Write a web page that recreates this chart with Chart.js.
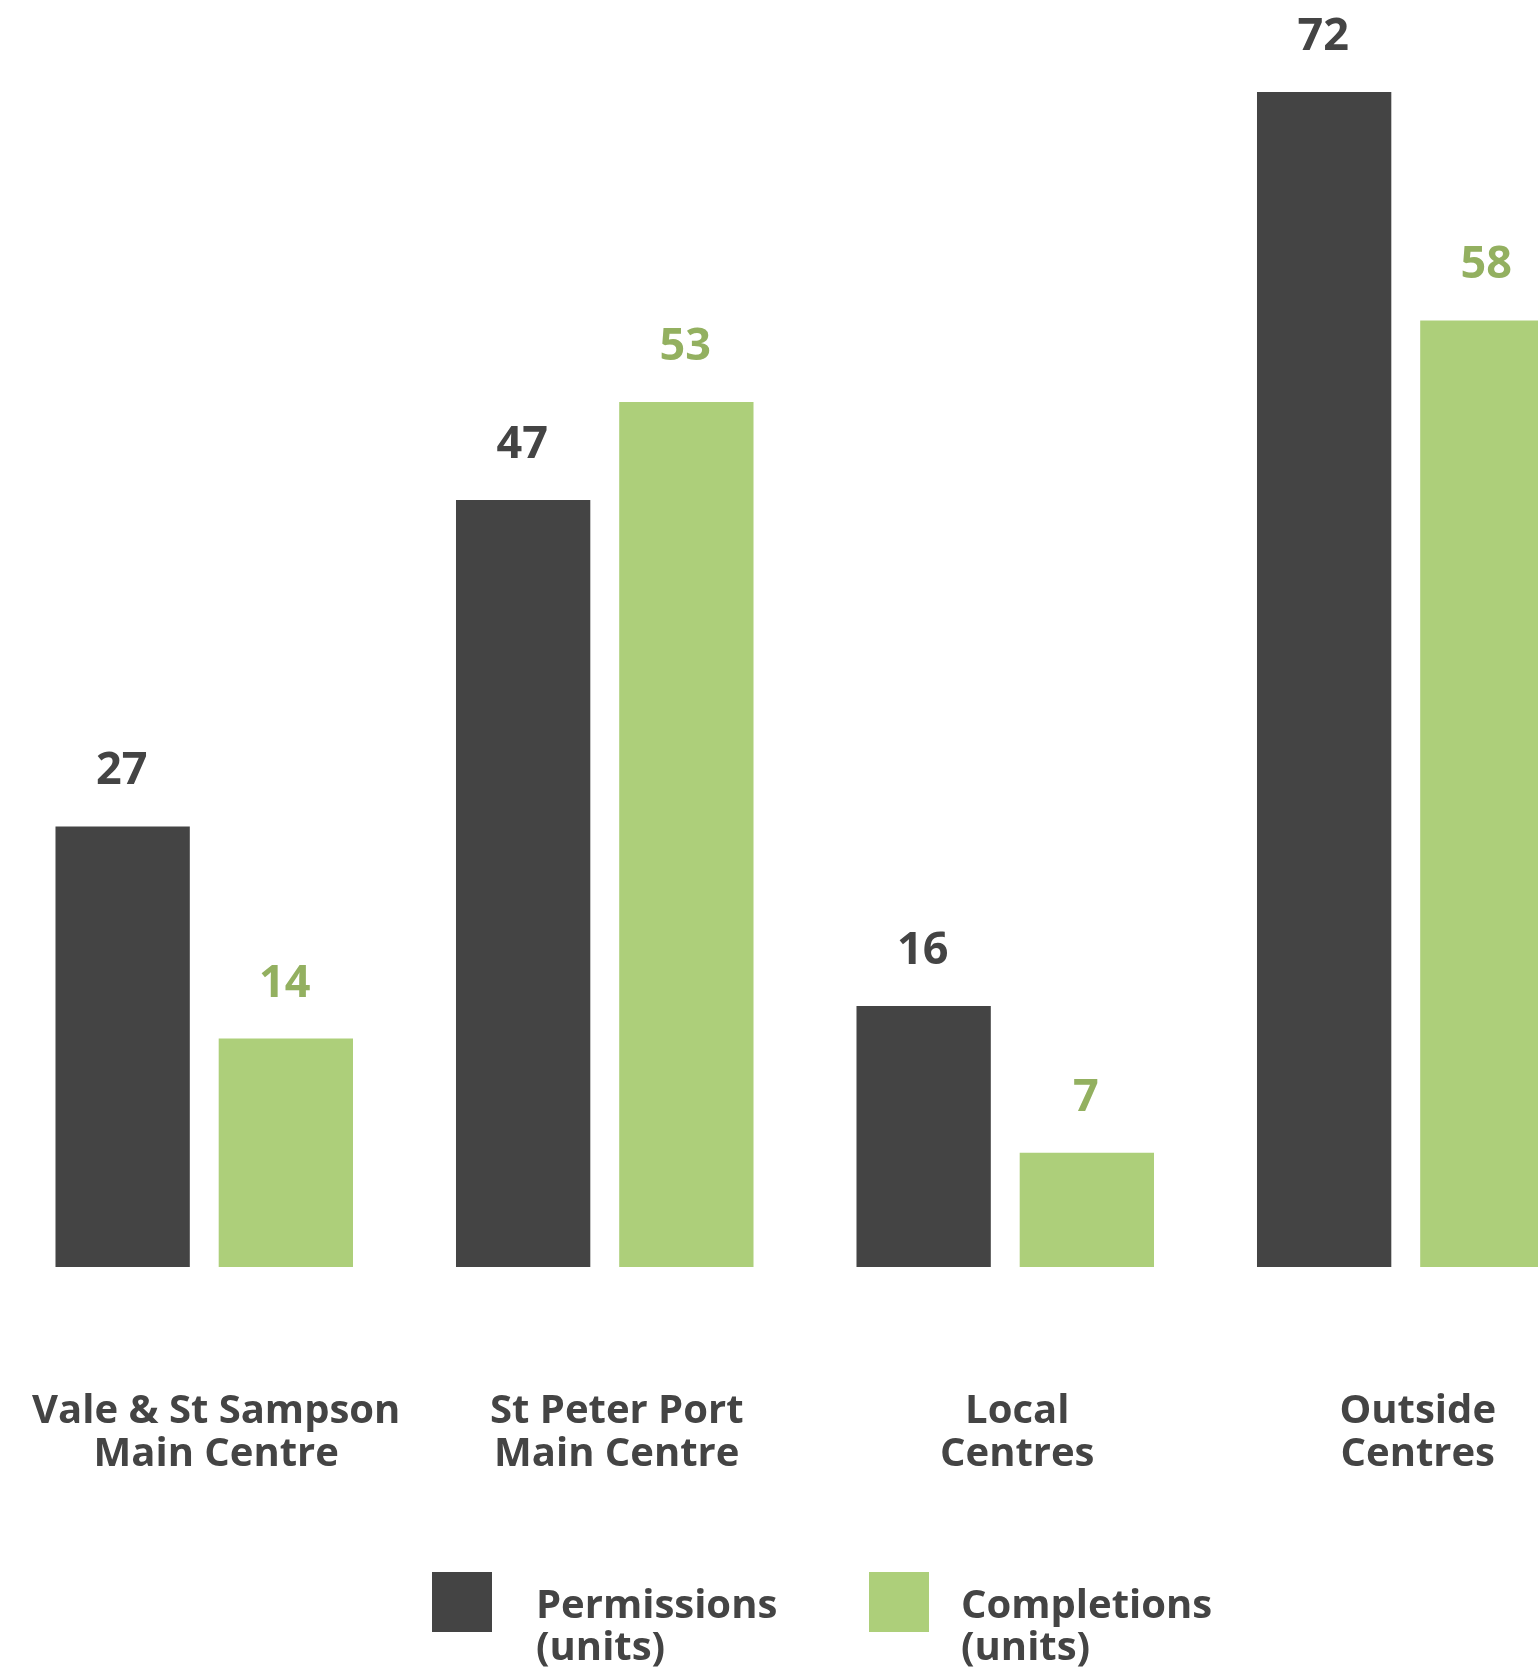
<!DOCTYPE html>
<html>
<head>
<meta charset="utf-8">
<script src="https://cdn.jsdelivr.net/npm/chart.js@4"></script>
<style>
  html, body { margin: 0; padding: 0; background: #ffffff; overflow: hidden; }
  #wrap { width: 1538px; height: 1671px; overflow: hidden; position: relative; }
  canvas { display: block; }
</style>
</head>
<body>
<div id="wrap"><canvas id="c" width="1610" height="1671"></canvas></div>
<script>
const categories = [
  ["Vale & St Sampson", "Main Centre"],
  ["St Peter Port", "Main Centre"],
  ["Local", "Centres"],
  ["Outside", "Centres"]
];
const seriesNames = [["Permissions", "(units)"], ["Completions", "(units)"]];
const permissions = [27, 47, 16, 72];
const completions = [14, 53, 7, 58];

const DARK = "#444444";
const GREEN = "#adcf7a";
const GREEN_LABEL = "#93b060";
const FONT = '"Open Sans", "Noto Sans", sans-serif';

const valueLabels = {
  id: "valueLabels",
  afterDatasetsDraw(chart) {
    const ctx = chart.ctx;
    ctx.save();
    ctx.font = "bold 45px " + FONT;
    ctx.textAlign = "center";
    ctx.textBaseline = "alphabetic";
    chart.data.datasets.forEach((ds, di) => {
      const meta = chart.getDatasetMeta(di);
      ctx.fillStyle = ds.labelColor;
      meta.data.forEach((el, i) => {
        ctx.fillText(String(ds.data[i]), el.x - 1, el.y - 42);
      });
    });
    ctx.restore();
  }
};

const categoryLabels = {
  id: "categoryLabels",
  afterDraw(chart) {
    const ctx = chart.ctx;
    const xs = chart.scales.x;
    ctx.save();
    ctx.font = "bold 40px " + FONT;
    ctx.fillStyle = DARK;
    ctx.textAlign = "center";
    ctx.textBaseline = "alphabetic";
    chart.data.labels.forEach((lab, i) => {
      const x = xs.getPixelForValue(i) + 12;
      lab.forEach((line, li) => {
        ctx.fillText(line, x, 1423 + li * 43);
      });
    });
    ctx.restore();
  }
};

const customLegend = {
  id: "customLegend",
  afterDraw(chart) {
    const ctx = chart.ctx;
    const items = [
      { box: 432, text: 536 },
      { box: 869, text: 961 }
    ];
    ctx.save();
    ctx.font = "bold 40px " + FONT;
    ctx.textAlign = "left";
    ctx.textBaseline = "alphabetic";
    chart.data.datasets.forEach((ds, di) => {
      const it = items[di];
      ctx.fillStyle = ds.backgroundColor;
      ctx.fillRect(it.box, 1572, 60, 60);
      ctx.fillStyle = DARK;
      ds.legendText.forEach((line, li) => {
        ctx.fillText(line, it.text, 1618 + li * 42);
      });
    });
    ctx.restore();
  }
};

new Chart(document.getElementById("c"), {
  type: "bar",
  data: {
    labels: categories,
    datasets: [
      { label: seriesNames[0].join(" "), legendText: seriesNames[0], data: permissions,
        backgroundColor: DARK, labelColor: DARK },
      { label: seriesNames[1].join(" "), legendText: seriesNames[1], data: completions,
        backgroundColor: GREEN, labelColor: GREEN_LABEL }
    ]
  },
  options: {
    responsive: false,
    animation: false,
    devicePixelRatio: 1,
    layout: { padding: { top: 92, bottom: 404, left: 4, right: 4 } },
    datasets: { bar: { categoryPercentage: 0.815, barPercentage: 0.823 } },
    scales: {
      x: { display: false },
      y: { display: false, min: 0, max: 72 }
    },
    plugins: {
      legend: { display: false },
      tooltip: { enabled: false }
    }
  },
  plugins: [valueLabels, categoryLabels, customLegend]
});
</script>
</body>
</html>
